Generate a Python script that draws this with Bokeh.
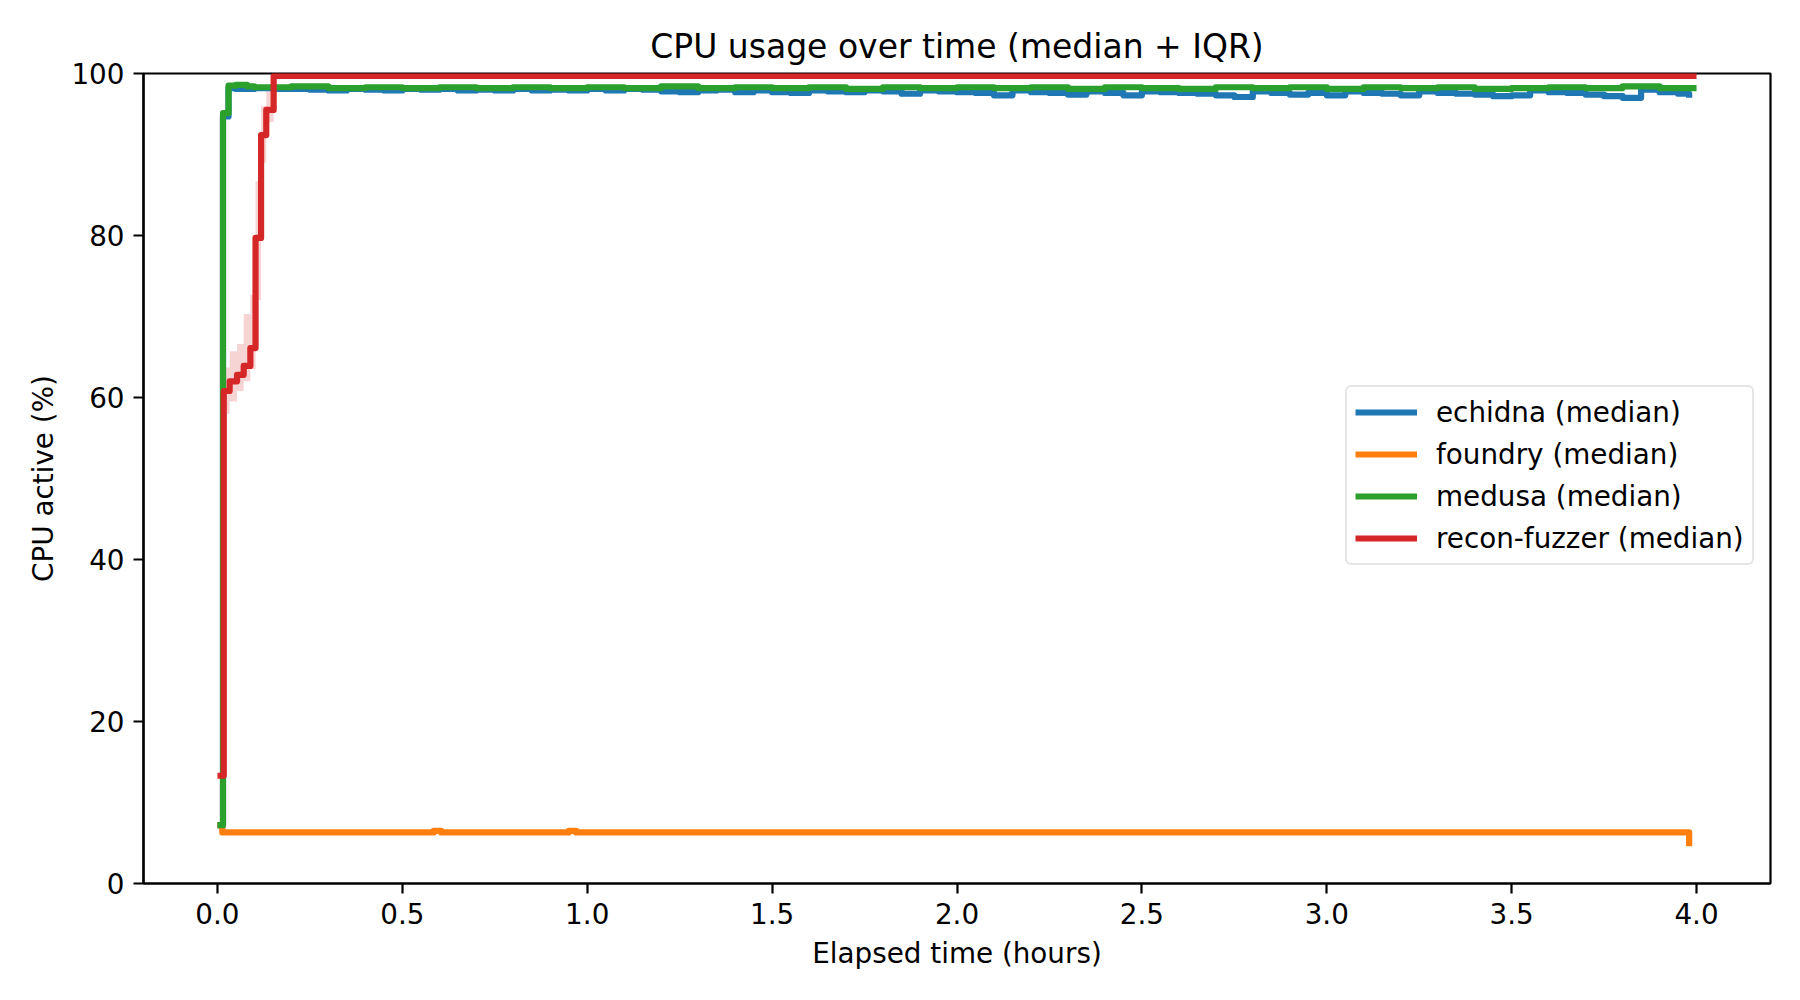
from bokeh.plotting import figure
from bokeh.models import Range1d, FixedTicker, NumeralTickFormatter, Legend
from bokeh.embed import file_html
from bokeh.resources import INLINE

# ---- data: median CPU usage (%) per fuzzer, sampled over elapsed hours ----
echidna_t = [0.0, 0.015, 0.03,
             0.05, 0.10, 0.15, 0.20, 0.25, 0.30, 0.35, 0.40, 0.45, 0.50,
             0.55, 0.60, 0.65, 0.70, 0.75, 0.80, 0.85, 0.90, 0.95, 1.00,
             1.05, 1.10, 1.15, 1.20, 1.25, 1.30, 1.35, 1.40, 1.45, 1.50,
             1.55, 1.60, 1.65, 1.70, 1.75, 1.80, 1.85, 1.90, 1.95, 2.00,
             2.05, 2.10, 2.15, 2.20, 2.25, 2.30, 2.35, 2.40, 2.45, 2.50,
             2.55, 2.60, 2.65, 2.70, 2.75, 2.80, 2.85, 2.90, 2.95, 3.00,
             3.05, 3.10, 3.15, 3.20, 3.25, 3.30, 3.35, 3.40, 3.45, 3.50,
             3.55, 3.60, 3.65, 3.70, 3.75, 3.80, 3.85, 3.90, 3.95, 3.98]
echidna_v = [7.2, 94.7, 98.2,
             98.1, 98.2, 98.1, 98.1, 98.0, 97.9, 98.1, 98.0, 97.9, 98.1,
             98.0, 98.1, 97.9, 98.0, 97.9, 98.1, 97.9, 98.0, 97.9, 98.1,
             97.9, 98.1, 98.0, 97.8, 97.7, 97.9, 98.0, 97.7, 97.9, 97.7,
             97.6, 97.9, 97.8, 97.7, 97.9, 97.8, 97.5, 97.9, 97.8, 97.7,
             97.6, 97.3, 97.9, 97.7, 97.6, 97.4, 97.8, 97.6, 97.3, 97.8,
             97.7, 97.6, 97.5, 97.3, 97.1, 97.8, 97.6, 97.4, 97.6, 97.3,
             97.8, 97.6, 97.5, 97.3, 97.8, 97.6, 97.5, 97.4, 97.2, 97.3,
             97.9, 97.7, 97.6, 97.4, 97.2, 97.0, 98.0, 97.7, 97.5, 97.0]

foundry_t = [0.0, 0.013, 0.585, 0.605, 0.950, 0.970, 3.980]
foundry_v = [7.2, 6.3, 6.5, 6.3, 6.5, 6.3, 4.6]

medusa_t = [0.0, 0.015, 0.03, 0.05, 0.08,
            0.1, 0.2, 0.3, 0.4, 0.5, 0.6, 0.7, 0.8, 0.9, 1.0,
            1.1, 1.2, 1.3, 1.4, 1.5, 1.6, 1.7, 1.8, 1.9, 2.0,
            2.1, 2.2, 2.3, 2.4, 2.5, 2.6, 2.7, 2.8, 2.9, 3.0,
            3.1, 3.2, 3.3, 3.4, 3.5, 3.6, 3.7, 3.8, 3.9, 4.0]
medusa_v = [7.2, 95.1, 98.5, 98.6, 98.4,
            98.3, 98.4, 98.2, 98.3, 98.2, 98.3, 98.2, 98.3, 98.2, 98.3,
            98.2, 98.4, 98.2, 98.3, 98.2, 98.3, 98.1, 98.3, 98.2, 98.3,
            98.2, 98.3, 98.1, 98.3, 98.2, 98.1, 98.3, 98.2, 98.3, 98.1,
            98.3, 98.2, 98.3, 98.1, 98.2, 98.3, 98.2, 98.4, 98.2, 98.2]

recon_t = [0.0, 0.017, 0.033, 0.053, 0.071, 0.089, 0.103, 0.118, 0.132, 0.152, 4.0]
recon_v = [13.3, 60.8, 62.0, 62.8, 63.9, 66.1, 79.7, 92.4, 95.5, 99.7, 99.7]
# interquartile range around the recon-fuzzer median
recon_q1 = [13.3, 58.0, 59.5, 60.8, 62.0, 63.5, 72.0, 89.0, 94.0, 99.7, 99.7]
recon_q3 = [13.3, 63.7, 65.7, 66.6, 70.3, 72.7, 86.7, 96.0, 98.0, 99.7, 99.7]

x_ticks = [0.0, 0.5, 1.0, 1.5, 2.0, 2.5, 3.0, 3.5, 4.0]
y_ticks = [0, 20, 40, 60, 80, 100]

series = [
    ("echidna (median)", echidna_t, echidna_v, "#1f77b4"),
    ("foundry (median)", foundry_t, foundry_v, "#ff7f0e"),
    ("medusa (median)", medusa_t, medusa_v, "#2ca02c"),
    ("recon-fuzzer (median)", recon_t, recon_v, "#d62728"),
]

FONT = "DejaVu Sans"
LW = 6.2

p = figure(frame_width=1627, frame_height=810,
           min_border_left=143, min_border_right=30,
           min_border_top=73, min_border_bottom=117,
           x_range=Range1d(-0.2, 4.2), y_range=Range1d(0, 100),
           output_backend="svg", toolbar_location=None,
           title="CPU usage over time (median + IQR)")

p.background_fill_color = "white"
p.border_fill_color = "white"
p.outline_line_color = "black"
p.outline_line_width = 2.2
p.xgrid.visible = False
p.ygrid.visible = False

p.title.align = "center"
p.title.text_font = FONT
p.title.text_font_size = "33px"
p.title.text_font_style = "normal"
p.title.text_color = "black"
p.title.standoff = 16

for ax in (p.xaxis[0], p.yaxis[0]):
    ax.axis_line_color = "black"
    ax.axis_line_width = 2.2
    ax.major_tick_line_color = "black"
    ax.major_tick_line_width = 2.2
    ax.major_tick_out = 10
    ax.major_tick_in = 0
    ax.minor_tick_line_color = None
    ax.major_label_text_font = FONT
    ax.major_label_text_font_size = "27.8px"
    ax.major_label_text_color = "black"
    ax.major_label_standoff = 9
    ax.axis_label_text_font = FONT
    ax.axis_label_text_font_size = "27.8px"
    ax.axis_label_text_font_style = "normal"
    ax.axis_label_text_color = "black"

p.xaxis.axis_label_standoff = 10
p.yaxis.axis_label_standoff = 8

p.xaxis.ticker = FixedTicker(ticks=x_ticks)
p.xaxis.formatter = NumeralTickFormatter(format="0.0")
p.yaxis.ticker = FixedTicker(ticks=y_ticks)
p.xaxis.axis_label = "Elapsed time (hours)"
p.yaxis.axis_label = "CPU active (%)"

# IQR band for recon-fuzzer
p.varea_step(x=recon_t, y1=recon_q1, y2=recon_q3, step_mode="after",
             fill_color="#d62728", fill_alpha=0.2)

items = []
for label, t, v, color in series:
    r = p.step(t, v, mode="after", line_color=color, line_width=LW,
               line_join="round")
    items.append((label, [r]))

legend = Legend(items=items, location=(1202, 318))
legend.label_text_font = FONT
legend.label_text_font_size = "27.8px"
legend.label_text_color = "black"
legend.glyph_width = 62
legend.glyph_height = 34
legend.label_standoff = 19
legend.spacing = 8
legend.padding = 8
legend.margin = 0
legend.border_line_color = "#cccccc"
legend.border_line_width = 2
legend.background_fill_alpha = 0.8
try:
    legend.border_radius = 6
except AttributeError:
    pass
p.add_layout(legend, "center")

open("out.html", "w").write(file_html(p, INLINE))
